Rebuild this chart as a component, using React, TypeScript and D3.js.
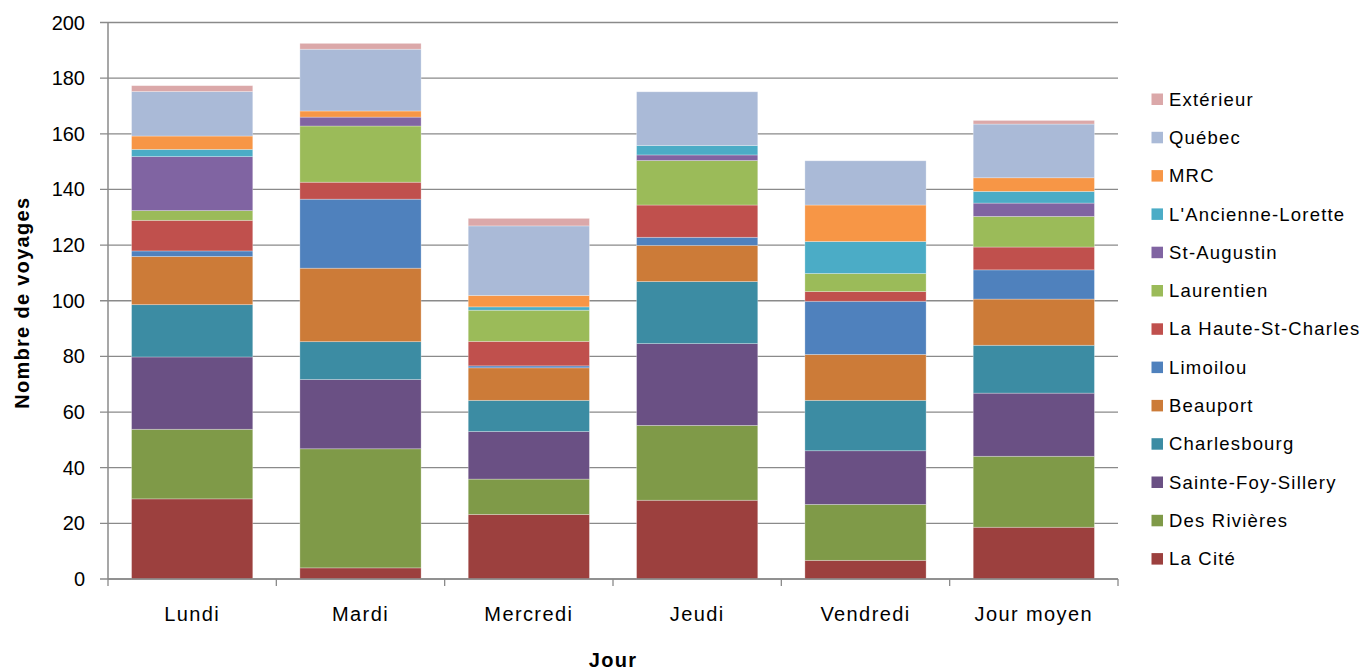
import React from "react";
import * as d3 from "d3";

// Days on the category axis
const days = ["Lundi", "Mardi", "Mercredi", "Jeudi", "Vendredi", "Jour moyen"];

// Trips per sector, one value per day (same order as `days`)
const laCite = [28.8, 4.0, 23.2, 28.3, 6.7, 18.6];
const desRivieres = [25.0, 42.8, 12.7, 26.9, 20.1, 25.5];
const sainteFoySillery = [26.0, 24.9, 17.1, 29.4, 19.3, 22.7];
const charlesbourg = [18.8, 13.6, 11.2, 22.3, 18.1, 17.2];
const beauport = [17.3, 26.4, 11.7, 13.0, 16.5, 16.6];
const limoilou = [2.0, 24.8, 0.7, 2.9, 19.1, 10.5];
const hauteStCharles = [11.0, 6.1, 8.8, 11.6, 3.5, 8.2];
const laurentien = [3.5, 20.2, 11.2, 16.0, 6.5, 11.0];
const stAugustin = [19.4, 3.2, 0, 2.0, 0, 4.8];
const ancienneLorette = [2.6, 0, 1.2, 3.4, 11.5, 4.2];
const mrc = [4.8, 2.2, 4.1, 0, 13.1, 4.9];
const quebec = [16.0, 22.2, 25.0, 19.3, 15.9, 19.3];
const exterieur = [2.1, 2.1, 2.7, 0, 0, 1.3];

// Stack order, bottom to top
const seriesNames = [
  "La Cité",
  "Des Rivières",
  "Sainte-Foy-Sillery",
  "Charlesbourg",
  "Beauport",
  "Limoilou",
  "La Haute-St-Charles",
  "Laurentien",
  "St-Augustin",
  "L'Ancienne-Lorette",
  "MRC",
  "Québec",
  "Extérieur",
];
const seriesValues = [
  laCite,
  desRivieres,
  sainteFoySillery,
  charlesbourg,
  beauport,
  limoilou,
  hauteStCharles,
  laurentien,
  stAugustin,
  ancienneLorette,
  mrc,
  quebec,
  exterieur,
];
const seriesColors = [
  "#9c403e",
  "#7f9a48",
  "#6a5084",
  "#3c8ca3",
  "#cc7b38",
  "#4f81bd",
  "#c0504d",
  "#9bbb59",
  "#8064a2",
  "#4bacc6",
  "#f79646",
  "#aabad7",
  "#dba8a9",
];

const yTicks = [0, 20, 40, 60, 80, 100, 120, 140, 160, 180, 200];

const W = 1364;
const H = 671;
const plot = { left: 108, right: 1118, top: 22.5, bottom: 579 };
const FONT = "'Liberation Sans', Arial, sans-serif";

export default function App() {
  const rows = days.map((day, i) => {
    const r: Record<string, number | string> = { day };
    seriesNames.forEach((n, k) => (r[n] = seriesValues[k][i]));
    return r;
  });
  const stack = d3.stack<Record<string, number | string>>().keys(seriesNames);
  const layers = stack(rows as any);

  const x = d3
    .scaleBand<string>()
    .domain(days)
    .range([plot.left, plot.right])
    .paddingInner(0.28)
    .paddingOuter(0.14);
  const y = d3.scaleLinear().domain([0, 200]).range([plot.bottom, plot.top]);

  const boundaries = d3
    .range(days.length + 1)
    .map((i) => plot.left + i * ((plot.right - plot.left) / days.length));

  const axisColor = "#8a8a8a";

  return (
    <svg
      width={W}
      height={H}
      style={{ position: "absolute", left: 0, top: 0, background: "#fff" }}
      fontFamily={FONT}
    >
      {/* horizontal gridlines and y ticks */}
      {yTicks.map((t) => (
        <g key={t}>
          <line x1={plot.left - 8} x2={plot.right} y1={y(t)} y2={y(t)} stroke={axisColor} strokeWidth={1.3} />
          <text x={85} y={y(t)} dy="0.35em" textAnchor="end" fontSize={20} fill="#000">
            {t}
          </text>
        </g>
      ))}

      {/* stacked bars */}
      {layers.map((layer, k) => (
        <g key={seriesNames[k]} fill={seriesColors[k]}>
          {layer.map((seg, i) => {
            const h = y(seg[0]) - y(seg[1]);
            if (h <= 0) return null;
            return (
              <rect
                key={i}
                x={x(days[i])}
                y={y(seg[1])}
                width={x.bandwidth()}
                height={h}
                stroke="rgba(255,255,255,0.35)"
                strokeWidth={0.8}
              />
            );
          })}
        </g>
      ))}

      {/* axes */}
      <line x1={plot.left} x2={plot.left} y1={plot.top} y2={plot.bottom} stroke={axisColor} strokeWidth={1.5} />
      <line x1={plot.left} x2={plot.right} y1={plot.bottom} y2={plot.bottom} stroke={axisColor} strokeWidth={1.5} />
      {boundaries.map((bx, i) => (
        <line key={i} x1={bx} x2={bx} y1={plot.bottom} y2={plot.bottom + 7} stroke={axisColor} strokeWidth={1.3} />
      ))}

      {/* category labels */}
      {days.map((d) => (
        <text
          key={d}
          x={(x(d) as number) + x.bandwidth() / 2}
          y={621}
          textAnchor="middle"
          fontSize={20}
          letterSpacing={1.4}
          fill="#000"
        >
          {d}
        </text>
      ))}

      {/* axis titles */}
      <text x={613} y={667} textAnchor="middle" fontSize={20} fontWeight="bold" letterSpacing={1.3} fill="#000">
        Jour
      </text>
      <text
        transform={`translate(29,${(plot.top + plot.bottom) / 2 + 2}) rotate(-90)`}
        textAnchor="middle"
        fontSize={20}
        fontWeight="bold"
        letterSpacing={1.3}
        fill="#000"
      >
        Nombre de voyages
      </text>

      {/* legend, top entry is the top of the stack */}
      {seriesNames
        .map((n, k) => ({ n, c: seriesColors[k] }))
        .reverse()
        .map((s, i) => {
          const cy = 99 + i * 38.3;
          return (
            <g key={s.n}>
              <rect x={1151.5} y={cy - 5.5} width={11.5} height={11.5} fill={s.c} />
              <text x={1169} y={cy} dy="0.36em" fontSize={18.5} letterSpacing={1.2} fill="#000">
                {s.n}
              </text>
            </g>
          );
        })}
    </svg>
  );
}
